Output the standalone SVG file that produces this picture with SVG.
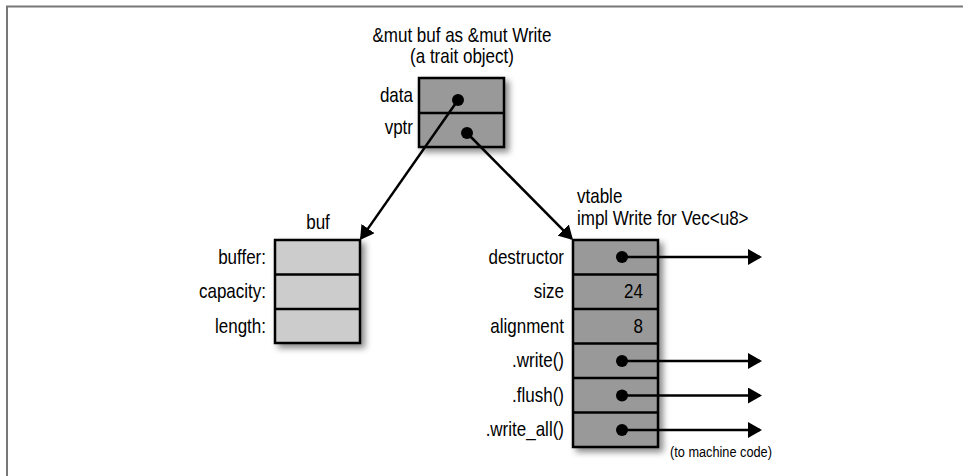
<svg xmlns="http://www.w3.org/2000/svg" width="963" height="476" viewBox="0 0 963 476">
<defs>
<style>
text{font-family:"Liberation Sans",Arial,sans-serif;font-size:20px;fill:#000}
.r{text-anchor:end}
.m{text-anchor:middle}
.sm{font-size:15px}
.dark{fill:#999;stroke:#000;stroke-width:2.5}
.light{fill:#ccc;stroke:#000;stroke-width:2.5}
.ln{stroke:#000;stroke-width:2.5;fill:none}
.dot{fill:#000}
</style>
<filter id="sh" x="-20%" y="-20%" width="150%" height="150%">
<feDropShadow dx="4" dy="4" stdDeviation="3" flood-color="#000" flood-opacity="0.45"/>
</filter>
<marker id="ah" viewBox="0 0 14 16" refX="12" refY="8" markerWidth="14" markerHeight="16" markerUnits="userSpaceOnUse" orient="auto">
<path d="M0,0 L14,8 L0,16 z" fill="#000"/>
</marker>
</defs>
<rect width="963" height="476" fill="#fff"/>
<path d="M7,476 V6.5 H963" fill="none" stroke="#777" stroke-width="2"/>

<g id="traitobj">
<rect class="dark" x="419" y="78" width="85" height="69" filter="url(#sh)"/>
<line class="ln" x1="419" y1="113" x2="504" y2="113"/>
<circle class="dot" cx="458" cy="100" r="6"/>
<circle class="dot" cx="467" cy="133" r="6"/>
<g transform="scale(0.85 1)">
<text class="m" x="543.53" y="42">&amp;mut buf as &amp;mut Write</text>
<text class="m" x="543.53" y="63">(a trait object)</text>
<text class="r" x="485.88" y="102">data</text>
<text class="r" x="485.88" y="134">vptr</text>
</g>
</g>

<g id="buf">
<rect class="light" x="275" y="240" width="85" height="103" filter="url(#sh)"/>
<line class="ln" x1="275" y1="274.5" x2="360" y2="274.5"/>
<line class="ln" x1="275" y1="309" x2="360" y2="309"/>
<g transform="scale(0.85 1)">
<text class="m" x="374.12" y="229">buf</text>
<text class="r" x="312.94" y="264">buffer:</text>
<text class="r" x="312.94" y="298">capacity:</text>
<text class="r" x="312.94" y="333">length:</text>
</g>
</g>

<g id="vtable">
<rect class="dark" x="573" y="240" width="85" height="207" filter="url(#sh)"/>
<line class="ln" x1="573" y1="274.5" x2="658" y2="274.5"/>
<line class="ln" x1="573" y1="309" x2="658" y2="309"/>
<line class="ln" x1="573" y1="343.5" x2="658" y2="343.5"/>
<line class="ln" x1="573" y1="378" x2="658" y2="378"/>
<line class="ln" x1="573" y1="412.5" x2="658" y2="412.5"/>
<circle class="dot" cx="622" cy="257" r="6"/>
<circle class="dot" cx="622" cy="361" r="6"/>
<circle class="dot" cx="622" cy="395.5" r="6"/>
<circle class="dot" cx="622" cy="430" r="6"/>
<g transform="scale(0.85 1)">
<text x="678.82" y="203">vtable</text>
<text x="678.82" y="225">impl Write for Vec&lt;u8&gt;</text>
<text class="r" x="663.53" y="264">destructor</text>
<text class="r" x="663.53" y="298">size</text>
<text class="r" x="663.53" y="333">alignment</text>
<text class="r" x="663.53" y="367">.write()</text>
<text class="r" x="663.53" y="402">.flush()</text>
<text class="r" x="663.53" y="436">.write_all()</text>
<text class="r" x="756.47" y="298">24</text>
<text class="r" x="756.47" y="333">8</text>
<text class="sm" x="788.24" y="457">(to machine code)</text>
</g>
</g>

<g id="connectors">
<line class="ln" x1="458" y1="100" x2="361.15" y2="238.36" marker-end="url(#ah)"/>
<line class="ln" x1="467" y1="133" x2="571.6" y2="238.6" marker-end="url(#ah)"/>
<line class="ln" x1="622" y1="257" x2="760" y2="257" marker-end="url(#ah)"/>
<line class="ln" x1="622" y1="361" x2="760" y2="361" marker-end="url(#ah)"/>
<line class="ln" x1="622" y1="395.5" x2="760" y2="395.5" marker-end="url(#ah)"/>
<line class="ln" x1="622" y1="430" x2="760" y2="430" marker-end="url(#ah)"/>
</g>
</svg>
